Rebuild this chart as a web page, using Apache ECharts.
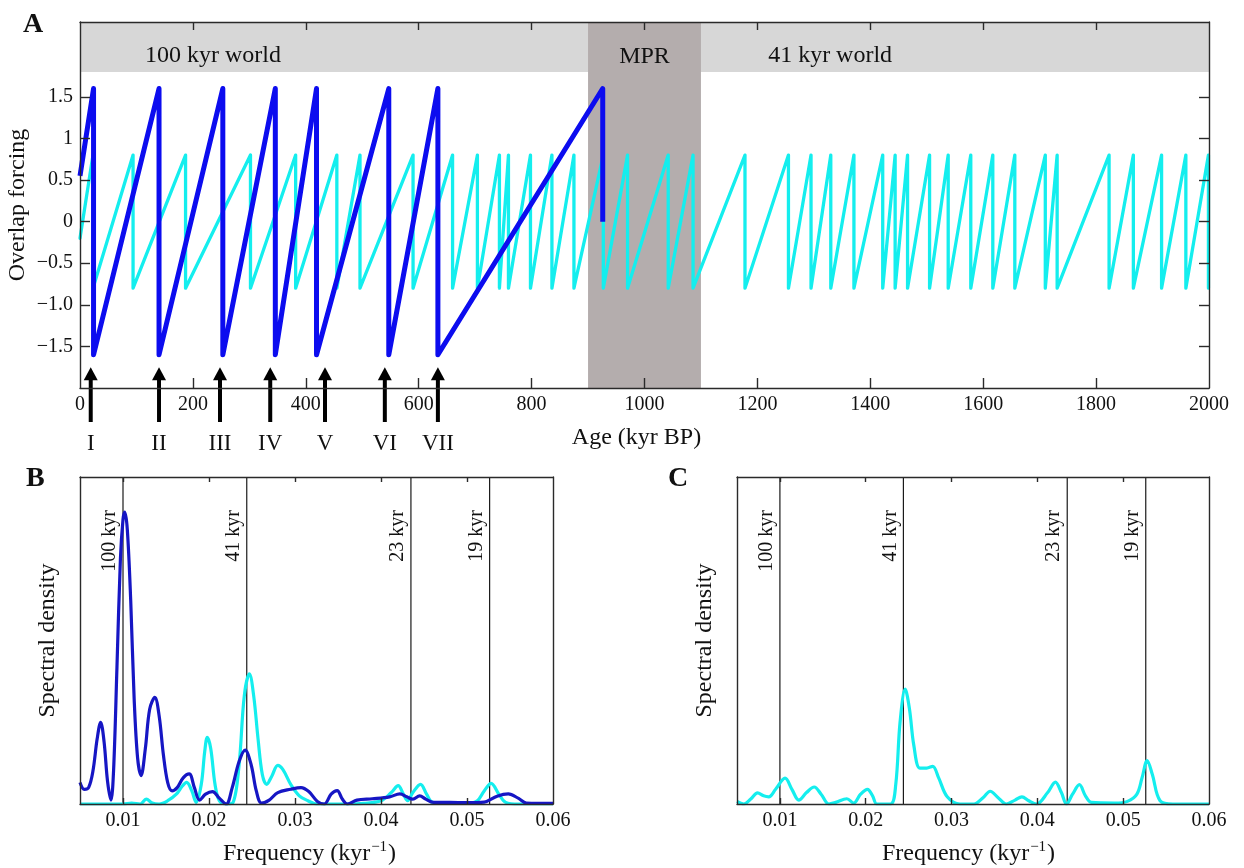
<!DOCTYPE html>
<html><head><meta charset="utf-8">
<script src="https://cdn.jsdelivr.net/npm/echarts@6/dist/echarts.min.js"></script>
<style>html,body{margin:0;padding:0;background:#fff}#c{width:1244px;height:868px}</style>
</head><body><div id="c"></div>
<script>
// ---------- Panel A data ----------
const ageTicks = [0, 200, 400, 600, 800, 1000, 1200, 1400, 1600, 1800, 2000];
const forcingTickValues = [-1.5, -1, -0.5, 0, 0.5, 1, 1.5];
const forcingTickLabels = ['\u22121.5', '\u22121.0', '\u22120.5', '0', '0.5', '1', '1.5'];

const cyanAge = [0, 23, 23, 94, 94, 187, 187, 302, 302, 382, 382, 455, 455, 496, 496, 590, 590, 660, 660, 704, 704,
  743, 743, 759, 759, 798, 798, 836, 836, 875, 875, 927, 927, 970, 970, 1042, 1042, 1086, 1086, 1178, 1178,
  1255, 1255, 1295, 1295, 1330, 1330, 1371, 1371, 1422, 1422, 1444, 1444, 1466, 1466, 1505, 1505, 1538, 1538, 1578, 1578,
  1617, 1617, 1656, 1656, 1710, 1710, 1731, 1731, 1823, 1823, 1866, 1866, 1916, 1916, 1959, 1959, 1999, 1999];
const cyanForcing = [-0.2, 0.8, -0.8, 0.8, -0.8, 0.8, -0.8, 0.8, -0.8, 0.8, -0.8, 0.8, -0.8, 0.8, -0.8, 0.8, -0.8, 0.8, -0.8, 0.8, -0.8,
  0.8, -0.8, 0.8, -0.8, 0.8, -0.8, 0.8, -0.8, 0.8, -0.8, 0.8, -0.8, 0.8, -0.8, 0.8, -0.8, 0.8, -0.8, 0.8, -0.8,
  0.8, -0.8, 0.8, -0.8, 0.8, -0.8, 0.8, -0.8, 0.8, -0.8, 0.8, -0.8, 0.8, -0.8, 0.8, -0.8, 0.8, -0.8, 0.8, -0.8,
  0.8, -0.8, 0.8, -0.8, 0.8, -0.8, 0.8, -0.8, 0.8, -0.8, 0.8, -0.8, 0.8, -0.8, 0.8, -0.8, 0.8, -0.8];

const blueAge = [0, 24, 24, 140, 140, 253, 253, 346, 346, 419, 419, 547, 547, 634, 634, 926, 926];
const blueForcing = [0.55, 1.6, -1.6, 1.6, -1.6, 1.6, -1.6, 1.6, -1.6, 1.6, -1.6, 1.6, -1.6, 1.6, -1.6, 1.6, 0];

const terminationAges = [19, 140, 248, 337, 434, 540, 634];
const terminationLabels = ['I', 'II', 'III', 'IV', 'V', 'VI', 'VII'];

const worldBand = [1.8, 2.4];
const mprRange = [900, 1100];
const worldLabels = ['100 kyr world', '41 kyr world'];
const worldLabelAges = [115, 1219];

// ---------- Panel B / C data ----------
const freqTicks = [0.01, 0.02, 0.03, 0.04, 0.05, 0.06];
const periodFreqs = [0.01, 0.02439, 0.04348, 0.05263];
const periodLabels = ['100 kyr', '41 kyr', '23 kyr', '19 kyr'];

const freqB_blue = [0.0050, 0.0055, 0.0060, 0.0065, 0.0070, 0.0074, 0.0078, 0.0082, 0.0086, 0.0089, 0.0093, 0.0097, 0.0100,
  0.0102, 0.0105, 0.0109, 0.0113, 0.0117, 0.0121, 0.0126, 0.0131, 0.0137, 0.0142, 0.0147, 0.0152, 0.0157, 0.0163, 0.0170,
  0.0177, 0.0183, 0.0189, 0.0196, 0.0204, 0.0212, 0.0220, 0.0227, 0.0235, 0.0242, 0.0249, 0.0255, 0.0261, 0.0270, 0.0280,
  0.0295, 0.0307, 0.0316, 0.0326, 0.0334, 0.0342, 0.0349, 0.0355, 0.0361, 0.0372, 0.0390, 0.0410, 0.0422, 0.0430, 0.0437,
  0.0445, 0.0452, 0.0461, 0.0480, 0.0500, 0.0520, 0.0535, 0.0548, 0.0560, 0.0569, 0.0600];
const densB_blue = [0.066, 0.045, 0.05, 0.10, 0.20, 0.25, 0.19, 0.07, 0.012, 0.10, 0.42, 0.75, 0.87,
  0.893, 0.84, 0.62, 0.32, 0.14, 0.087, 0.17, 0.29, 0.326, 0.27, 0.15, 0.065, 0.04, 0.05, 0.08,
  0.092, 0.05, 0.012, 0.03, 0.038, 0.018, 0.0, 0.05, 0.13, 0.165, 0.12, 0.04, 0.003, 0.012, 0.035,
  0.045, 0.05, 0.038, 0.008, 0.0, 0.03, 0.041, 0.015, 0.0, 0.012, 0.016, 0.022, 0.031, 0.022, 0.015,
  0.025, 0.015, 0.005, 0.005, 0.004, 0.006, 0.024, 0.031, 0.017, 0.003, 0.002];

const freqB_cyan = [0.0050, 0.0100, 0.0110, 0.0120, 0.0127, 0.0134, 0.0142, 0.0152, 0.0162, 0.0169, 0.0174, 0.0180, 0.0185,
  0.0191, 0.0195, 0.0198, 0.0202, 0.0207, 0.0212, 0.0220, 0.0228, 0.0235, 0.0241, 0.0247, 0.0252, 0.0257, 0.0262, 0.0267,
  0.0273, 0.0280, 0.0286, 0.0295, 0.0305, 0.0315, 0.0325, 0.0340, 0.0360, 0.0380, 0.0400, 0.0412, 0.0420, 0.0426, 0.0431,
  0.0437, 0.0446, 0.0453, 0.0460, 0.0480, 0.0500, 0.0512, 0.0520, 0.0528, 0.0537, 0.0545, 0.0560, 0.0600];
const densB_cyan = [0.0, 0.0, 0.003, 0.0, 0.015, 0.003, 0.0, 0.01, 0.03, 0.055, 0.066, 0.04, 0.005,
  0.06, 0.16, 0.204, 0.17, 0.06, 0.01, 0.0, 0.005, 0.12, 0.33, 0.398, 0.33, 0.2, 0.09, 0.06,
  0.085, 0.118, 0.105, 0.06, 0.025, 0.01, 0.0, 0.0, 0.0, 0.002, 0.01, 0.035, 0.056, 0.03, 0.01,
  0.035, 0.06, 0.03, 0.005, 0.003, 0.002, 0.01, 0.04, 0.063, 0.03, 0.005, 0.0, 0.0];

const freqC_cyan = [0.0050, 0.0058, 0.0066, 0.0074, 0.0081, 0.0087, 0.0095, 0.0106, 0.0114, 0.0122, 0.0131, 0.0140, 0.0148,
  0.0157, 0.0165, 0.0178, 0.0186, 0.0194, 0.0202, 0.0208, 0.0213, 0.0229, 0.0235, 0.0240, 0.0246, 0.0251, 0.0256, 0.0263,
  0.0271, 0.0278, 0.0285, 0.0295, 0.0310, 0.0326, 0.0337, 0.0345, 0.0354, 0.0364, 0.0374, 0.0382, 0.0390, 0.0399, 0.0412,
  0.0421, 0.0428, 0.0434, 0.0441, 0.0449, 0.0456, 0.0463, 0.0490, 0.0505, 0.0516, 0.0522, 0.0528, 0.0534, 0.0543, 0.0558, 0.0600];
const densC_cyan = [0.008, 0.0, 0.015, 0.034, 0.025, 0.022, 0.045, 0.079, 0.045, 0.012, 0.035, 0.052, 0.03,
  0.0, 0.005, 0.016, 0.003, 0.03, 0.045, 0.025, 0.0, 0.0, 0.06, 0.25, 0.351, 0.29, 0.18, 0.11,
  0.11, 0.115, 0.08, 0.022, 0.0, 0.0, 0.02, 0.039, 0.02, 0.0, 0.012, 0.022, 0.01, 0.0, 0.035,
  0.067, 0.035, 0.0, 0.03, 0.059, 0.025, 0.005, 0.003, 0.008, 0.03, 0.08, 0.133, 0.09, 0.01, 0.0, 0.0];

// ---------- styling ----------
const FONT = '"Liberation Serif", "DejaVu Serif", serif';
const INK = '#111';
const AXC = '#2a2a2a';
const CYAN = '#14eeee';
const BLUE_A = '#0c0cef';
const BLUE_S = '#1616c4';
const zip = (a, b) => a.map((v, i) => [v, b[i]]);

function xAxes(gridIndex, min, max, labelVals, tickVals, fmt, name, nameGap, tickLen, nameShift) {
  return [{
    type: 'value', gridIndex, min, max, position: 'bottom', z: 6,
    axisLine: { show: true, onZero: false, lineStyle: { color: AXC, width: 1.4 } },
    axisTick: { show: true, inside: true, length: tickLen, customValues: tickVals, lineStyle: { color: AXC, width: 1.4 } },
    axisLabel: { show: true, customValues: labelVals, formatter: fmt, color: INK, fontFamily: FONT, fontSize: 20, margin: 7, showMinLabel: true, showMaxLabel: true },
    splitLine: { show: false },
    name, nameLocation: 'middle', nameGap, nameMoveOverlap: false,
    nameTextStyle: {
      color: INK, fontFamily: FONT, fontSize: 24, padding: [0, nameShift, 0, 0],
      rich: {
        a: { fontFamily: FONT, fontSize: 24, color: INK, lineHeight: 28 },
        s: { fontFamily: FONT, fontSize: 15, color: INK, verticalAlign: 'top', lineHeight: 16, padding: [0, 1, 0, 1] }
      }
    }
  }, {
    type: 'value', gridIndex, min, max, position: 'top', z: 6,
    axisLine: { show: true, onZero: false, lineStyle: { color: AXC, width: 1.4 } },
    axisTick: { show: true, inside: true, length: Math.round(tickLen * 0.8), customValues: tickVals, lineStyle: { color: AXC, width: 1.4 } },
    axisLabel: { show: false }, splitLine: { show: false }
  }];
}
function yAxes(gridIndex, min, max, tickVals, labelVals, fmt, name, nameGap, showTicks) {
  return [{
    type: 'value', gridIndex, min, max, position: 'left', z: 6,
    axisLine: { show: true, onZero: false, lineStyle: { color: AXC, width: 1.4 } },
    axisTick: { show: showTicks, inside: true, length: 10, customValues: tickVals, lineStyle: { color: AXC, width: 1.4 } },
    axisLabel: { show: !!labelVals, customValues: labelVals || [], formatter: fmt, color: INK, fontFamily: FONT, fontSize: 20, margin: 7 },
    splitLine: { show: false },
    name, nameLocation: 'middle', nameGap, nameMoveOverlap: false, nameTextStyle: { color: INK, fontFamily: FONT, fontSize: 24 }
  }, {
    type: 'value', gridIndex, min, max, position: 'right', z: 6,
    axisLine: { show: true, onZero: false, lineStyle: { color: AXC, width: 1.4 } },
    axisTick: { show: showTicks, inside: true, length: 10, customValues: tickVals, lineStyle: { color: AXC, width: 1.4 } },
    axisLabel: { show: false }, splitLine: { show: false }
  }];
}

const freqFmt = v => v.toFixed(2);
const freqName = '{a|Frequency (kyr}{s|\u22121}{a|)}';

function periodLineSeries(xi, yi) {
  return {
    type: 'custom', xAxisIndex: xi, yAxisIndex: yi, clip: false, z: 3, silent: true,
    data: periodFreqs.map(f => [f, 0]),
    renderItem(params, api) {
      const f = api.value(0);
      const p0 = api.coord([f, 0]);
      const p1 = api.coord([f, 1]);
      return {
        type: 'group', children: [
          { type: 'line', shape: { x1: p0[0], y1: p0[1], x2: p1[0], y2: p1[1] }, style: { stroke: '#1a1a1a', lineWidth: 1.2 } },
          { type: 'text', x: p1[0] - 3, y: p1[1] + 33, rotation: Math.PI / 2,
            style: { text: periodLabels[params.dataIndex], align: 'right', verticalAlign: 'bottom', font: '20px ' + FONT, fill: INK } }
        ]
      };
    }
  };
}

const spectrumLine = (color) => ({ color, width: 3.2, join: 'round' });

const option = {
  animation: false,
  backgroundColor: '#fff',
  title: [
    { text: 'A', left: 18, top: 6, textStyle: { fontFamily: FONT, fontWeight: 'bold', fontSize: 28, color: INK } },
    { text: 'B', left: 21, top: 460, textStyle: { fontFamily: FONT, fontWeight: 'bold', fontSize: 28, color: INK } },
    { text: 'C', left: 663, top: 460, textStyle: { fontFamily: FONT, fontWeight: 'bold', fontSize: 28, color: INK } }
  ],
  grid: [
    { left: 80, top: 22, width: 1129, height: 366, outerBoundsMode: 'none' },
    { left: 80, top: 477, width: 473, height: 327, outerBoundsMode: 'none' },
    { left: 737, top: 477, width: 472, height: 327, outerBoundsMode: 'none' }
  ],
  xAxis: [
    ...xAxes(0, 0, 2000, ageTicks, ageTicks.slice(1, -1), v => String(v), 'Age (kyr BP)', 38, 10, 16),
    ...xAxes(1, 0.005, 0.06, freqTicks, freqTicks.slice(0, -1), freqFmt, freqName, 36, 6, 14),
    ...xAxes(2, 0.005, 0.06, freqTicks, freqTicks.slice(0, -1), freqFmt, freqName, 36, 6, 9)
  ],
  yAxis: [
    ...yAxes(0, -2, 2.4, forcingTickValues, forcingTickValues, v => forcingTickLabels[forcingTickValues.indexOf(v)], 'Overlap forcing', 50, true),
    ...yAxes(1, 0, 1, [], null, null, 'Spectral density', 20, false),
    ...yAxes(2, 0, 1, [], null, null, 'Spectral density', 20, false)
  ],
  series: [
    {
      type: 'line', xAxisIndex: 0, yAxisIndex: 0, data: zip(cyanAge, cyanForcing), symbol: 'none', z: 3,
      lineStyle: { color: CYAN, width: 3.3, join: 'round', cap: 'round' },
      markArea: {
        silent: true,
        data: [
          [{ xAxis: 0, yAxis: worldBand[0], itemStyle: { color: '#d7d7d7', opacity: 1 } }, { xAxis: 2000, yAxis: worldBand[1] }],
          [{ xAxis: mprRange[0], yAxis: -2, itemStyle: { color: '#b4adad', opacity: 1 } }, { xAxis: mprRange[1], yAxis: worldBand[1] }]
        ]
      }
    },
    {
      type: 'line', xAxisIndex: 0, yAxisIndex: 0, data: zip(blueAge, blueForcing), symbol: 'none', z: 4,
      lineStyle: { color: BLUE_A, width: 5, join: 'round', cap: 'butt' }
    },
    {
      type: 'custom', xAxisIndex: 0, yAxisIndex: 0, clip: false, z: 5, silent: true,
      data: worldLabelAges.map(a => [a, 2.0]).concat([[(mprRange[0] + mprRange[1]) / 2, 1.98]]),
      renderItem(params, api) {
        const p = api.coord([api.value(0), api.value(1)]);
        const isMpr = params.dataIndex >= worldLabels.length;
        return { type: 'text', x: p[0], y: p[1],
          style: { text: isMpr ? 'MPR' : worldLabels[params.dataIndex], align: isMpr ? 'center' : 'left', verticalAlign: 'middle', font: '24px ' + FONT, fill: INK } };
      }
    },
    {
      type: 'custom', xAxisIndex: 0, yAxisIndex: 0, clip: false, z: 6, silent: true,
      data: terminationAges.map(a => [a, -1.75]),
      renderItem(params, api) {
        const tip = api.coord([api.value(0), api.value(1)]);
        const base = api.coord([api.value(0), -2]);
        const x = tip[0];
        return {
          type: 'group', children: [
            { type: 'polygon', shape: { points: [[x, tip[1]], [x - 7, tip[1] + 13], [x + 7, tip[1] + 13]] }, style: { fill: '#000' } },
            { type: 'line', shape: { x1: x, y1: tip[1] + 10, x2: x, y2: base[1] + 34 }, style: { stroke: '#000', lineWidth: 4 } },
            { type: 'text', x: x, y: base[1] + 56, style: { text: terminationLabels[params.dataIndex], align: 'center', verticalAlign: 'middle', font: '23px ' + FONT, fill: INK } }
          ]
        };
      }
    },
    periodLineSeries(2, 2),
    {
      type: 'line', xAxisIndex: 2, yAxisIndex: 2, data: zip(freqB_cyan, densB_cyan), symbol: 'none', z: 4,
      smooth: 0.35, lineStyle: spectrumLine(CYAN)
    },
    {
      type: 'line', xAxisIndex: 2, yAxisIndex: 2, data: zip(freqB_blue, densB_blue), symbol: 'none', z: 5,
      smooth: 0.35, lineStyle: spectrumLine(BLUE_S)
    },
    periodLineSeries(4, 4),
    {
      type: 'line', xAxisIndex: 4, yAxisIndex: 4, data: zip(freqC_cyan, densC_cyan), symbol: 'none', z: 4,
      smooth: 0.35, lineStyle: spectrumLine(CYAN)
    }
  ]
};

const chart = echarts.init(document.getElementById('c'), null, { renderer: 'canvas' });
chart.setOption(option);
</script></body></html>
